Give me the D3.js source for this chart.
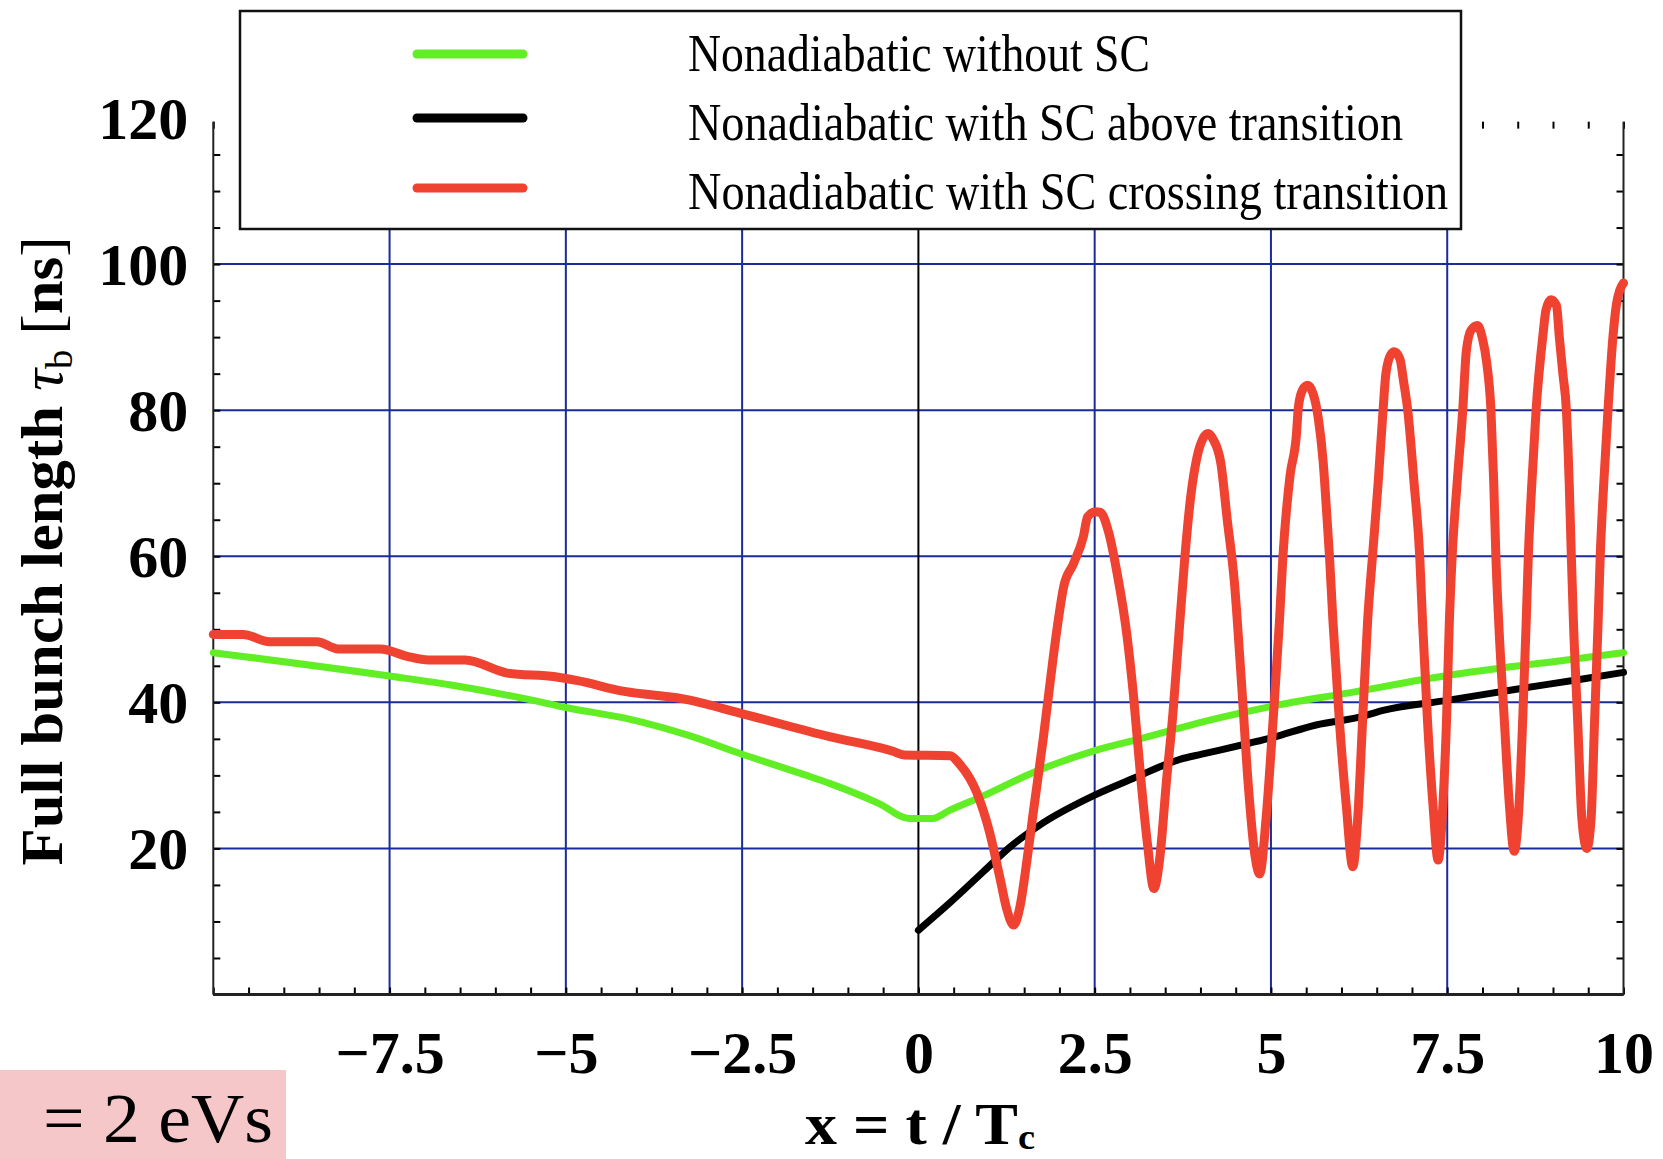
<!DOCTYPE html>
<html>
<head>
<meta charset="utf-8">
<script src="https://cdn.jsdelivr.net/npm/d3@7/dist/d3.min.js"></script>
<style>
  body { margin: 0; background: #fff; }
  text { font-family: "Liberation Serif", "Times New Roman", serif; }
</style>
</head>
<body>
<div id="chart"></div>
<script>
// values
var xTickLabels = [-7.5, -5, -2.5, 0, 2.5, 5, 7.5, 10];
var yTickLabels = [20, 40, 60, 80, 100, 120];
var xGrid = [-7.5, -5, -2.5, 2.5, 5, 7.5];
var yGrid = [20, 40, 60, 80, 100];
var legendLabels = ["Nonadiabatic without SC",
                    "Nonadiabatic with SC above transition",
                    "Nonadiabatic with SC crossing transition"];
var seriesColors = ["#62ee25", "#000000", "#ef4231"];

// Nonadiabatic without SC
var noSC = [[-10,46.8],[-7.5,43.6],[-6.65,42.4],[-5.53,40.4],[-5,39.3],[-4.1,37.7],[-3.27,35.5],
  [-2.5,32.9],[-1.62,30.1],[-1.26,28.9],[-0.55,26.1],[-0.13,24.1],[0.2,24.1],[0.44,25.2],
  [0.92,27.2],[1.63,30.4],[2.5,33.4],[3.26,35.3],[3.52,36.0],[4.02,37.3],[4.69,38.8],
  [5.03,39.5],[6.11,41.3],[7.52,43.7],[8.52,45.0],[8.95,45.5],[10,46.8]];

// Nonadiabatic with SC above transition
var scAbove = [[0,8.8],[0.44,12.5],[0.92,16.8],[1.3,20.2],[1.72,23.2],[2.5,27.3],[3.05,29.6],
  [3.71,32.2],[4.02,32.9],[4.69,34.4],[5.03,35.2],[5.64,36.9],[6.27,38.0],[6.59,38.9],
  [7.52,40.3],[8.48,41.8],[9.42,43.2],[10,44.1]];

// Nonadiabatic with SC crossing transition
var scCrossing = [[-10,49.3],[-9.58,49.3],[-9.2,48.3],[-8.53,48.3],[-8.23,47.3],[-7.63,47.3],
  [-7.25,46.3],[-6.95,45.8],[-6.43,45.8],[-5.83,44.0],[-5.15,43.5],[-4.85,43.0],[-4.17,41.5],
  [-3.35,40.5],[-2.52,38.5],[-1.26,35.3],[-0.36,33.3],[-0.2,32.8],[0.45,32.7],[0.58,31.6],
  [0.83,27.6],[1.01,22.2],[1.16,15.8],[1.25,11.8],[1.35,9.5],[1.44,12],[1.54,18.4],[1.63,25],
  [1.77,35],[1.91,46],[1.98,51],[2.06,55.8],[2.2,59],[2.34,62.7],[2.4,65.4],[2.51,66.1],
  [2.58,66],[2.7,63.2],[2.81,58.1],[2.96,49],[3.05,41],[3.15,30],[3.25,20.5],[3.34,14.5],
  [3.42,18.4],[3.52,29.4],[3.61,38.5],[3.7,50],[3.78,60],[3.86,68],[3.95,73.5],[4.03,76],
  [4.11,76.8],[4.18,76],[4.29,72.7],[4.38,65],[4.48,56.6],[4.58,43],[4.68,28.5],[4.76,20],
  [4.84,16.5],[4.93,24],[5.03,37.5],[5.12,51],[5.17,60],[5.27,71],[5.36,76.5],[5.39,80.5],
  [5.45,82.8],[5.52,83.4],[5.6,82.2],[5.67,79],[5.74,73],[5.79,66],[5.83,60],[5.88,51],
  [5.97,37.5],[6.07,25.7],[6.16,17.5],[6.23,24],[6.3,37.5],[6.37,51],[6.44,60],[6.52,70],
  [6.59,80],[6.63,85],[6.7,87.6],[6.75,88],[6.83,87],[6.88,84],[6.94,80],[7.03,70],[7.11,60],
  [7.15,51],[7.22,37.5],[7.3,25.7],[7.37,18.4],[7.44,26.2],[7.49,37.5],[7.53,51],[7.57,60],
  [7.64,70],[7.72,80],[7.77,88],[7.84,91],[7.93,91.6],[8.0,89.8],[8.06,86.5],[8.12,80],
  [8.16,70],[8.19,60],[8.23,51],[8.31,37.5],[8.38,26.2],[8.45,19.6],[8.52,26.2],[8.57,37.5],
  [8.62,51],[8.65,60],[8.7,70],[8.76,80],[8.86,90.5],[8.9,93.7],[8.97,95.1],[9.05,94.3],
  [9.09,90],[9.14,85],[9.19,80],[9.23,70],[9.26,60],[9.29,51],[9.35,37.5],[9.41,24],[9.48,20],
  [9.54,24],[9.59,37.5],[9.64,51],[9.67,60],[9.72,70],[9.78,80],[9.85,90],[9.9,94.5],
  [9.95,96.5],[10,97.4]];

var W = 1663, H = 1159;
var margin = {top: 118, right: 39.5, bottom: 164.5, left: 213.3},
    width = W - margin.left - margin.right,
    height = H - margin.top - margin.bottom;

var svg = d3.select("#chart")
  .append("svg")
    .attr("width", W)
    .attr("height", H);

var g = svg.append("g")
    .attr("transform", "translate(" + margin.left + "," + margin.top + ")");

var x = d3.scaleLinear().domain([-10, 10]).range([0, width]);
var y = d3.scaleLinear().domain([0, 120]).range([height, 0]);
var yTop = y(119.5);

var gridBlue = "#1b2b9c";

// grid
g.selectAll(".vgrid").data(xGrid).enter().append("line")
    .attr("x1", function(d) { return x(d); }).attr("x2", function(d) { return x(d); })
    .attr("y1", y(0)).attr("y2", yTop)
    .attr("stroke", gridBlue).attr("stroke-width", 2);
g.selectAll(".hgrid").data(yGrid).enter().append("line")
    .attr("x1", 0).attr("x2", width)
    .attr("y1", function(d) { return y(d); }).attr("y2", function(d) { return y(d); })
    .attr("stroke", gridBlue).attr("stroke-width", 2);
g.append("line")
    .attr("x1", x(0)).attr("x2", x(0)).attr("y1", y(0)).attr("y2", yTop)
    .attr("stroke", "#000").attr("stroke-width", 2);

// minor ticks, all pointing into the frame
var xMinor = d3.range(-10, 10.01, 0.5);
var yMinor = d3.range(0, 120, 5);

function tickStyle(sel) {
  sel.select(".domain").remove();
  sel.selectAll("line").attr("stroke", "#000").attr("stroke-width", 2);
}
g.append("g")
    .attr("transform", "translate(0," + height + ")")
    .call(d3.axisTop(x).tickValues(xMinor).tickSize(7).tickFormat(""))
    .call(tickStyle);
g.append("g")
    .attr("transform", "translate(0," + yTop + ")")
    .call(d3.axisBottom(x).tickValues(xMinor).tickSize(7).tickFormat(""))
    .call(tickStyle);
g.append("g")
    .call(d3.axisRight(y).tickValues(yMinor).tickSize(7).tickFormat(""))
    .call(tickStyle);
g.append("g")
    .attr("transform", "translate(" + width + ",0)")
    .call(d3.axisLeft(y).tickValues(yMinor).tickSize(7).tickFormat(""))
    .call(tickStyle);

// frame lines
g.append("line").attr("x1", 0).attr("x2", width).attr("y1", y(0)).attr("y2", y(0))
    .attr("stroke", "#222").attr("stroke-width", 3);
g.append("line").attr("x1", 0).attr("x2", 0).attr("y1", y(0)).attr("y2", yTop)
    .attr("stroke", "#222").attr("stroke-width", 2);
g.append("line").attr("x1", width).attr("x2", width).attr("y1", y(0)).attr("y2", yTop)
    .attr("stroke", "#222").attr("stroke-width", 2);

// tick labels
var fmt = d3.format("~g");
var xLab = g.append("g")
    .attr("transform", "translate(0," + height + ")")
    .call(d3.axisBottom(x).tickValues(xTickLabels).tickSize(0).tickPadding(36).tickFormat(fmt));
xLab.select(".domain").remove();
xLab.selectAll("text")
    .attr("font-family", "Liberation Serif, Times New Roman, serif")
    .attr("font-size", 60).attr("font-weight", "bold").attr("fill", "#000");

var yLab = g.append("g")
    .call(d3.axisLeft(y).tickValues(yTickLabels).tickSize(0).tickPadding(25).tickFormat(fmt));
yLab.select(".domain").remove();
yLab.selectAll("text")
    .attr("font-family", "Liberation Serif, Times New Roman, serif")
    .attr("font-size", 60).attr("font-weight", "bold").attr("fill", "#000")
    .attr("dy", "0.34em");

// curves
var line = d3.line()
    .x(function(d) { return x(d[0]); })
    .y(function(d) { return y(d[1]); })
    .curve(d3.curveMonotoneX);

[noSC, scAbove, scCrossing].forEach(function(s, i) {
  g.append("path")
      .datum(s)
      .attr("d", line)
      .attr("fill", "none")
      .attr("stroke", seriesColors[i])
      .attr("stroke-width", i == 2 ? 9 : 7)
      .attr("stroke-linejoin", "round")
      .attr("stroke-linecap", "round");
});

// legend
var legend = svg.append("g");
legend.append("rect")
    .attr("x", 240).attr("y", 11).attr("width", 1221).attr("height", 218)
    .attr("fill", "#fff").attr("stroke", "#111").attr("stroke-width", 2.5);
var legY = [54, 118, 188];
var legBase = [71, 140, 209];
var legW = [462, 715, 760];
legendLabels.forEach(function(t, i) {
  legend.append("line")
      .attr("x1", 417).attr("x2", 523)
      .attr("y1", legY[i]).attr("y2", legY[i])
      .attr("stroke", seriesColors[i]).attr("stroke-width", 9)
      .attr("stroke-linecap", "round");
  legend.append("text")
      .attr("x", 688).attr("y", legBase[i])
      .attr("font-size", 52)
      .attr("textLength", legW[i]).attr("lengthAdjust", "spacingAndGlyphs")
      .text(t);
});

// squeeze a text element horizontally to a measured width
function fitWidth(sel, target, tx, ty, rot) {
  var w = sel.node().getBBox().width;
  sel.attr("transform", "translate(" + tx + "," + ty + ") rotate(" + rot + ") scale(" + (target / w) + ",1)");
}

// y axis title
var yTitle = svg.append("text")
    .attr("text-anchor", "middle")
    .attr("font-size", 60);
yTitle.append("tspan").attr("font-weight", "bold").text("Full bunch length ");
yTitle.append("tspan").attr("font-style", "italic").text("τ");
yTitle.append("tspan").attr("font-size", 38).attr("dy", 10).text("b");
yTitle.append("tspan").attr("dy", -10).text(" [");
yTitle.append("tspan").attr("font-weight", "bold").text("ns");
yTitle.append("tspan").text("]");
fitWidth(yTitle, 629, 62, 551, -90);

// x axis title
var xTitle = svg.append("text")
    .attr("text-anchor", "middle")
    .attr("font-size", 60).attr("font-weight", "bold");
xTitle.append("tspan").text("x = t / T");
xTitle.append("tspan").attr("font-size", 36).attr("dy", 5).text("c");
fitWidth(xTitle, 230, 920, 1144, 0);

// cut-off annotation in the lower left corner
svg.append("rect")
    .attr("x", 0).attr("y", 1070).attr("width", 286).attr("height", 89)
    .attr("fill", "#f6c7c9");
svg.append("text")
    .attr("x", 43).attr("y", 1142)
    .attr("font-size", 70)
    .attr("textLength", 230).attr("lengthAdjust", "spacingAndGlyphs")
    .text("= 2 eVs");
</script>
</body>
</html>
